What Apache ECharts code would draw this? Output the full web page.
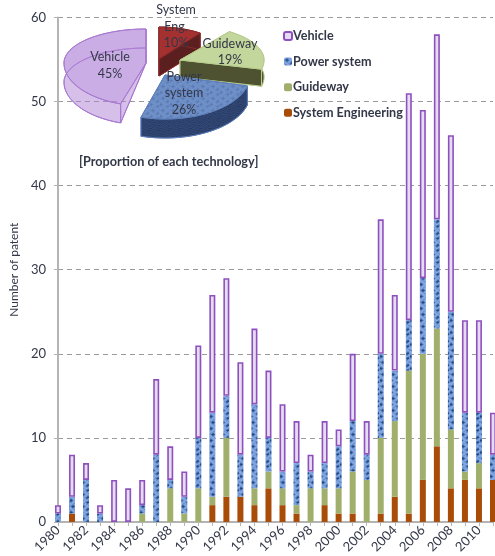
<!DOCTYPE html>
<html>
<head>
<meta charset="utf-8">
<style>html,body{margin:0;padding:0;background:#fff}#chart{width:495px;height:556px}</style>
<script src="https://cdn.jsdelivr.net/npm/echarts@6/dist/echarts.min.js"></script>
</head>
<body>
<div id="chart"></div>
<script>
// Yearly patent counts, split by technology
const years = ['1980','1981','1982','1983','1984','1985','1986','1987','1988','1989','1990','1991','1992','1993','1994','1995','1996','1997','1998','1999','2000','2001','2002','2003','2004','2005','2006','2007','2008','2009','2010','2011'];
const systemEngineering = [0,1,0,0,0,0,0,0,0,0,0,2,3,3,2,4,2,1,0,2,1,1,0,1,3,1,5,9,4,5,4,5];
const guideway =          [0,0,0,0,0,0,1,0,4,1,4,1,7,0,2,2,2,1,4,2,3,5,5,9,9,17,15,14,7,1,3,0];
const powerSystem =       [1,2,5,1,0,0,1,8,1,2,6,10,5,5,10,4,2,5,2,3,5,6,3,10,6,6,9,13,14,7,6,3];
const vehicle =           [1,5,2,1,5,4,3,9,4,3,11,14,14,11,9,8,8,5,2,5,2,8,4,16,9,27,20,22,21,11,11,5];

// Share of each technology, in pie order
const pieNames = [['System','Eng.'],['Guideway'],['Power','system'],['Vehicle']];
const pieShares = [10,19,26,45];

const FONT = 'Lato, "Open Sans", sans-serif';
const INK = '#333848';

// Mottled fills for the power-system marks
function mottled(colors, rows) {
  const c = document.createElement('canvas');
  c.width = rows[0].length; c.height = rows.length;
  const g = c.getContext('2d');
  rows.forEach((r, y) => [...r].forEach((k, x) => {
    g.fillStyle = colors[+k];
    g.fillRect(x, y, 1, 1);
  }));
  return { image: c, repeat: 'repeat' };
}
const tile = [
  '0011001100',
  '1122100011',
  '1233210001',
  '0122100110',
  '0011001220',
  '0000112331',
  '1100012210',
  '2210001100',
  '3321000011',
  '2210011221',
  '1100012331',
  '0001101210'
];
const blueFill = mottled(['#80a5e0','#6a92d2','#41699f','#264a80'], tile);
const pieBlueFill = mottled(['#7090c8','#6a8ac4','#6383bd','#5a7ab4'], tile);
const pieDarkFill = mottled(['#2f4672','#2b3f68','#34497a','#263a60'], tile);

// Placement and colouring of each exploded wedge
const wedgeStyle = [
  {cx:159,cy:59,rx:70,back:32,front:32,depth:17,hinge:17,top:'#a53030',side:'#5c1f20',stroke:'#8a2a2a',tx:176,ty:[10,27,43]},
  {cx:180,cy:60,rx:84,back:35,front:38,depth:17,hinge:17,top:'#c3d69b',side:'#4e5230',stroke:'#b8cc8e',tx:230,ty:[44,60]},
  {cx:165,cy:75,rx:85,back:40,front:44,depth:19,hinge:19,top:pieBlueFill,side:pieDarkFill,stroke:'#5f80ba',tx:184,ty:[77,93,110]},
  {cx:146,cy:63,rx:82,back:34,front:43,depth:19,hinge:0,top:'rgba(176,132,214,0.52)',side:'rgba(176,132,214,0.3)',stroke:'#a878d0',tx:110,ty:[57,74]}
];

const START_ANGLE = -90;

function renderWedge(params, api) {
  const i = params.dataIndex;
  const s = wedgeStyle[i];
  const before = pieShares.slice(0, i).reduce((a, b) => a + b, 0);
  const a0 = START_ANGLE + before * 3.6;
  const a1 = a0 + api.value(0) * 3.6;
  const arc = dy => {
    const pts = [];
    for (let t = a0; t <= a1 + 0.01; t += 2) {
      const r = t * Math.PI / 180;
      const sn = Math.sin(r);
      pts.push([s.cx + s.rx * Math.cos(r), s.cy + (sn > 0 ? s.front : s.back) * sn + dy]);
    }
    return pts;
  };
  const topArc = arc(0), lowArc = arc(s.depth);
  const c0 = [s.cx, s.cy], c1 = [s.cx, s.cy + s.hinge];
  const face = (points, fill) => ({
    type: 'polygon',
    shape: { points },
    style: { fill, stroke: s.stroke, lineWidth: 1 }
  });
  const first = topArc[0], last = topArc[topArc.length - 1];
  const lowFirst = lowArc[0], lowLast = lowArc[lowArc.length - 1];
  const children = [
    face([c1, ...lowArc], s.side),
    face([c0, first, lowFirst, c1], s.side),
    face([c0, last, lowLast, c1], s.side),
    face([...topArc, ...lowArc.slice().reverse()], s.side),
    face([c0, ...topArc], s.top)
  ];
  const lines = [...pieNames[i], pieShares[i] + '%'];
  lines.forEach((text, k) => children.push({
    type: 'text', z2: 20,
    style: { text, x: s.tx, y: s.ty[k], align: 'center', verticalAlign: 'middle', fill: INK, font: '12.5px ' + FONT }
  }));
  return { type: 'group', children };
}

const barSeries = (name, data, itemStyle) => ({
  name, type: 'bar', stack: 'patents', barWidth: 6, itemStyle, data,
  emphasis: { disabled: true }, z: 3
});

const chart = echarts.init(document.getElementById('chart'), null, { renderer: 'canvas' });
chart.setOption({
  animation: false,
  backgroundColor: '#fff',
  grid: { left: 53, right: 2, top: 17.5, bottom: 34 },
  legend: {
    orient: 'vertical', left: 278, top: 24.5, itemWidth: 8, itemHeight: 8, itemGap: 12.6,
    selectedMode: false,
    data: ['Vehicle', 'Power system', 'Guideway', 'System Engineering'],
    textStyle: { fontFamily: FONT, fontWeight: 'bold', fontSize: 12.6, color: INK, padding: [0, 0, 0, -4] }
  },
  xAxis: {
    type: 'category', data: years, boundaryGap: false,
    axisLine: { lineStyle: { color: '#b4b4b4', width: 2 } },
    axisTick: { length: 4, interval: 0, lineStyle: { color: '#b4b4b4' } },
    axisLabel: { interval: 1, rotate: 45, fontFamily: FONT, fontSize: 13, color: INK, margin: 6 }
  },
  yAxis: {
    type: 'value', min: 0, max: 60, interval: 10,
    name: 'Number of patent', nameLocation: 'middle', nameGap: 32,
    nameTextStyle: { fontFamily: FONT, fontSize: 12, color: INK },
    axisLine: { show: true, lineStyle: { color: '#b4b4b4', width: 2 } },
    axisTick: { show: true, length: 4, lineStyle: { color: '#b4b4b4' } },
    axisLabel: { fontFamily: FONT, fontSize: 13, color: INK, margin: 12 },
    splitLine: { lineStyle: { color: '#9a9a9a', type: [5, 4], width: 1 } }
  },
  graphic: [
    {
      // Keeps the first year's bar inside the plot area
      type: 'rect', left: 47, top: 498, z: 5,
      shape: { width: 5, height: 23 },
      style: { fill: '#fff' }
    },
    {
      type: 'text', left: 79, top: 155, z: 10,
      style: { text: '[Proportion of each technology]', font: 'bold 12.7px ' + FONT, fill: INK }
    }
  ],
  series: [
    barSeries('System Engineering', systemEngineering, { color: '#a84c08' }),
    barSeries('Guideway', guideway, { color: '#a0b06c' }),
    barSeries('Power system', powerSystem, { color: blueFill }),
    barSeries('Vehicle', vehicle, { color: '#e6dcf0', borderColor: '#8f50bf', borderWidth: 1.6 }),
    {
      type: 'custom', coordinateSystem: 'none', renderItem: renderWedge,
      data: pieShares.map(v => [v]), silent: true, z: 6, clip: false
    }
  ]
});
</script>
</body>
</html>
